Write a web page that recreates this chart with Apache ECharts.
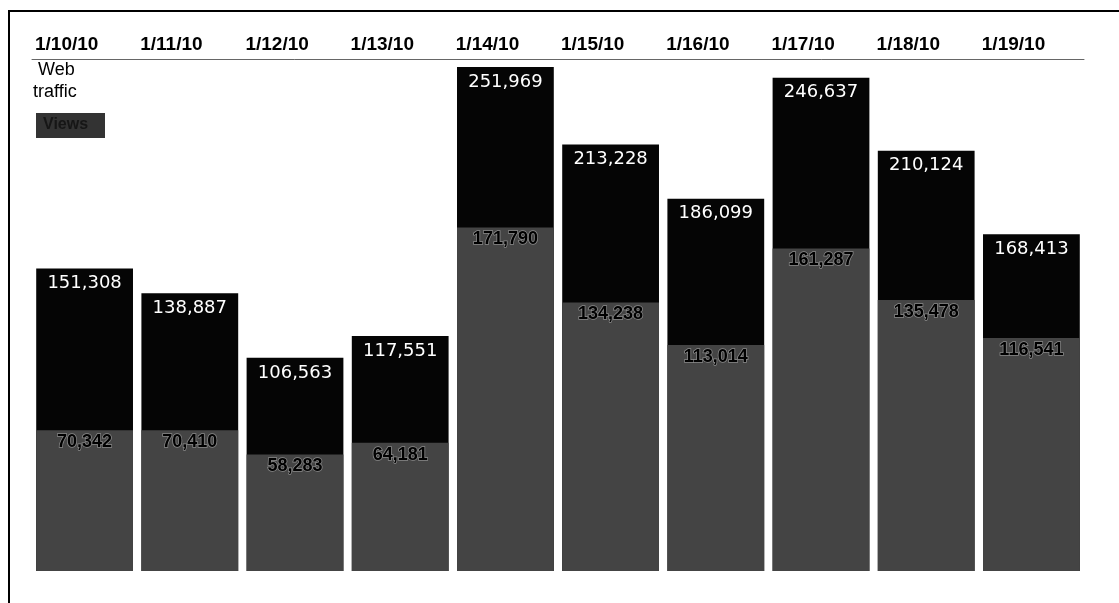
<!DOCTYPE html>
<html>
<head>
<meta charset="utf-8">
<script src="https://cdn.jsdelivr.net/npm/echarts@6/dist/echarts.min.js"></script>
<style>
html,body{margin:0;padding:0;background:#fff;}
#chart{width:1119px;height:603px;}
</style>
</head>
<body>
<div id="chart"></div>
<script>
const dates = ['1/10/10','1/11/10','1/12/10','1/13/10','1/14/10','1/15/10','1/16/10','1/17/10','1/18/10','1/19/10'];
const webTraffic = [151308, 138887, 106563, 117551, 251969, 213228, 186099, 246637, 210124, 168413];
const views = [70342, 70410, 58283, 64181, 171790, 134238, 113014, 161287, 135478, 116541];

const fmt = p => Number(p.value).toLocaleString('en-US');

const chart = echarts.init(document.getElementById('chart'));
chart.setOption({
  backgroundColor: '#fff',
  animation: false,
  grid: { left: 32, right: 35, top: 59, bottom: 32 },
  xAxis: [
    {
      type: 'category', data: dates, position: 'bottom',
      axisLine: { show: false }, axisTick: { show: false }, axisLabel: { show: false }
    },
    {
      type: 'value', min: 0, max: 10, interval: 1, position: 'top',
      axisLine: { show: true, lineStyle: { color: '#666', width: 1 } },
      axisTick: { show: false }, splitLine: { show: false },
      axisLabel: {
        formatter: v => dates[v] || '',
        align: 'left', margin: 5, padding: [0, 0, 0, 3],
        fontFamily: 'Liberation Sans', fontWeight: 'bold', fontSize: 19, color: '#000'
      }
    }
  ],
  yAxis: { type: 'value', min: 0, max: 256000, show: false },
  graphic: [
    { type: 'line', shape: { x1: 8, y1: 11, x2: 1119, y2: 11 }, style: { stroke: '#000', lineWidth: 2 } },
    { type: 'line', shape: { x1: 9, y1: 11, x2: 9, y2: 603 }, style: { stroke: '#000', lineWidth: 2 } },
    { type: 'text', left: 38, top: 61, style: { text: 'Web', font: '18px "Liberation Sans"', fill: '#000', textStroke: '#000', lineWidth: 0.4 } },
    { type: 'text', left: 33, top: 83, style: { text: 'traffic', font: '18px "Liberation Sans"', fill: '#000', textStroke: '#000', lineWidth: 0.4 } },
    { type: 'rect', left: 36, top: 113, shape: { width: 69, height: 25 }, style: { fill: '#333' } },
    { type: 'text', left: 43, top: 117, style: { text: 'Views', font: 'bold 16px "Liberation Sans"', fill: '#161616' } }
  ],
  series: [
    {
      name: 'Web traffic', type: 'bar', data: webTraffic,
      barCategoryGap: '8%', barGap: '-100%',
      itemStyle: { color: '#050505' },
      label: {
        show: true, position: 'insideTop', distance: 6, formatter: fmt,
        color: '#fff', fontFamily: 'DejaVu Sans', fontSize: 18
      }
    },
    {
      name: 'Views', type: 'bar', data: views,
      barCategoryGap: '8%', barGap: '-100%',
      itemStyle: { color: '#444' },
      label: {
        show: true, position: 'insideTop', distance: 3, formatter: fmt,
        color: '#000', fontFamily: 'Liberation Sans', fontWeight: 'bold', fontSize: 18,
        textBorderColor: '#8a8a8a', textBorderWidth: 1.5
      }
    }
  ]
});
</script>
</body>
</html>
